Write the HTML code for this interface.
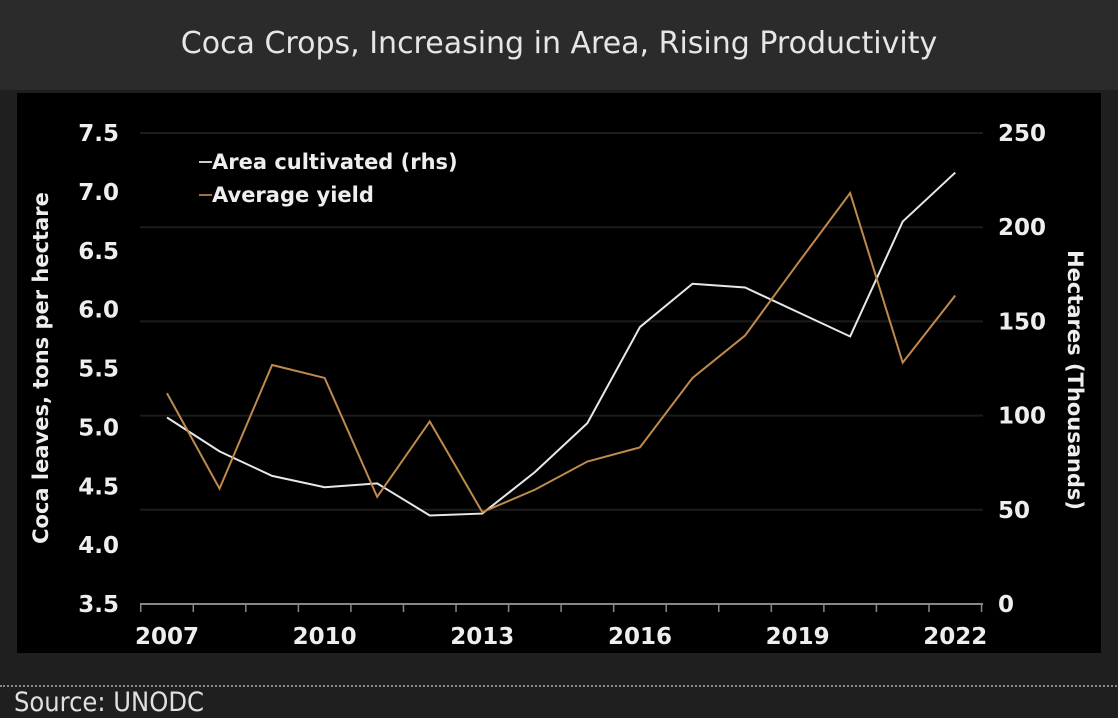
<!DOCTYPE html>
<html><head><meta charset="utf-8"><style>
html,body{margin:0;padding:0;background:#1f1f1f;}
#wrap{position:relative;width:1118px;height:718px;background:#1f1f1f;overflow:hidden;font-family:"DejaVu Sans","Liberation Sans",sans-serif;}
#title{position:absolute;left:0;top:0;width:1118px;height:90px;background:#2b2b2b;color:#e6e6e6;font-size:30px;text-align:center;line-height:88px;}
#panel{position:absolute;left:17px;top:93px;width:1084px;height:560px;background:#000;}
#src{position:absolute;left:0;top:685px;width:1118px;border-top:2px dotted #888;color:#e0e0e0;font-size:27px;padding-left:14px;line-height:32px;font-family:"Liberation Sans Narrow","DejaVu Sans Condensed","Liberation Sans",sans-serif;}
svg{position:absolute;left:0;top:0;}
</style></head><body>
<div id="wrap">
<div id="title">Coca Crops, Increasing in Area, Rising Productivity</div>
<div id="panel"></div>
<svg id="chart" width="1118" height="718"></svg>
<div id="src">Source: UNODC</div>
</div>
<script>
const years=[2007,2008,2009,2010,2011,2012,2013,2014,2015,2016,2017,2018,2019,2020,2021,2022];
const areaThousands=[99,81,68,62,64,47,48,70,96,147,170,168,155,142,203,229];
const avgYield=[5.29,4.48,5.53,5.42,4.41,5.05,4.28,4.47,4.71,4.83,5.42,5.78,6.39,6.99,5.55,6.12];
const leftTicks=[3.5,4.0,4.5,5.0,5.5,6.0,6.5,7.0,7.5];
const rightTicks=[0,50,100,150,200,250];
const xTickLabels=[2007,2010,2013,2016,2019,2022];

const svg=document.getElementById('chart');
const NS='http://www.w3.org/2000/svg';
const x=y=>167+(y-2007)*52.55;
const yL=v=>604-(v-3.5)/4*471;
const yR=v=>604-v/250*471;
function mk(t,a){const e=document.createElementNS(NS,t);for(const k in a)e.setAttribute(k,a[k]);svg.appendChild(e);return e;}

rightTicks.forEach(v=>{if(v>0){const g=mk('line',{x1:140,x2:983,y1:yR(v),y2:yR(v),stroke:'#1c1c1c','stroke-width':2});

}});
const ax=mk('line',{x1:140,x2:983,y1:604,y2:604,stroke:'#888','stroke-width':2});


for(let yy=2006.5;yy<=2022.6;yy+=1){const t=mk('line',{x1:x(yy),x2:x(yy),y1:604,y2:612,stroke:'#888','stroke-width':1.5});

}
xTickLabels.forEach(v=>{const t=mk('text',{x:x(v),y:644,fill:'#eee','font-size':23,'font-weight':'bold','text-anchor':'middle'});t.textContent=v;

});
leftTicks.forEach(v=>{const t=mk('text',{x:119,y:yL(v)+8,fill:'#eee','font-size':23,'font-weight':'bold','text-anchor':'end'});t.textContent=v.toFixed(1);

});
rightTicks.forEach(v=>{const t=mk('text',{x:998,y:yR(v)+8,fill:'#eee','font-size':23,'font-weight':'bold','text-anchor':'start'});t.textContent=v;

});
const lt=mk('text',{x:0,y:0,fill:'#eee','font-size':21,'font-weight':'bold','text-anchor':'middle',transform:'translate(48,368) rotate(-90)'});lt.textContent='Coca leaves, tons per hectare';


const rt=mk('text',{x:0,y:0,fill:'#eee','font-size':21,'font-weight':'bold','text-anchor':'middle',transform:'translate(1068,380) rotate(90)'});rt.textContent='Hectares (Thousands)';



const p1=mk('polyline',{points:years.map((y,i)=>x(y)+','+yR(areaThousands[i])).join(' '),fill:'none',stroke:'#e8e8e8','stroke-width':2});


const p2=mk('polyline',{points:years.map((y,i)=>x(y)+','+yL(avgYield[i])).join(' '),fill:'none',stroke:'#c08a4e','stroke-width':2});



[['Area cultivated (rhs)','#ccc',169],['Average yield','#a0703c',202]].forEach((l,i)=>{
const s=mk('line',{x1:199,x2:212,y1:l[2]-7,y2:l[2]-7,stroke:l[1],'stroke-width':2});


const t=mk('text',{x:212,y:l[2],fill:'#eee','font-size':21,'font-weight':'bold'});t.textContent=l[0];

});
</script>
</body></html>
